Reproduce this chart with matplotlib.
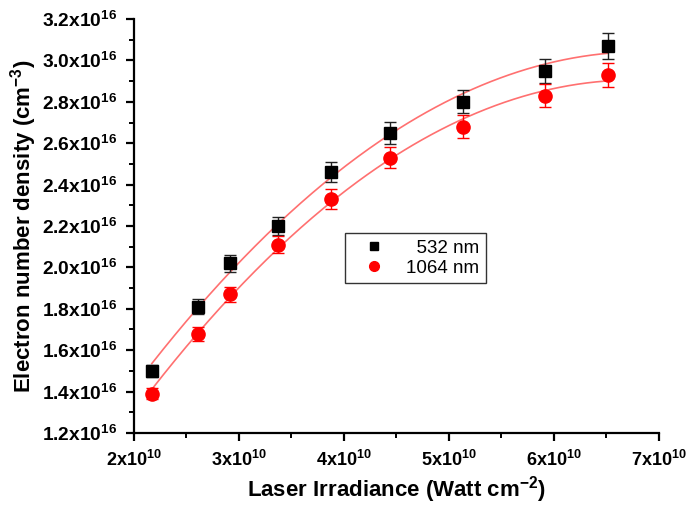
import numpy as np
import matplotlib
matplotlib.use('Agg')
import matplotlib.pyplot as plt
from matplotlib.lines import Line2D
from matplotlib.ticker import FixedLocator, FuncFormatter, MultipleLocator

plt.rcParams['font.family'] = 'Liberation Sans'
plt.rcParams['mathtext.fontset'] = 'custom'
plt.rcParams['mathtext.rm'] = 'Liberation Sans:bold'
plt.rcParams['mathtext.default'] = 'rm'

# laser irradiance (W cm^-2)
irradiance = np.array([2.17, 2.61, 2.91, 3.37, 3.88, 4.44, 5.13, 5.91, 6.51]) * 1e10

# electron number density (cm^-3)
ne_532 = np.array([1.50, 1.81, 2.02, 2.20, 2.46, 2.65, 2.80, 2.95, 3.07]) * 1e16
ne_1064 = np.array([1.39, 1.68, 1.87, 2.11, 2.33, 2.53, 2.68, 2.83, 2.93]) * 1e16

err_532 = np.array([0.030, 0.036, 0.040, 0.044, 0.049, 0.053, 0.056, 0.059, 0.061]) * 1e16
err_1064 = np.array([0.028, 0.034, 0.037, 0.042, 0.047, 0.051, 0.054, 0.057, 0.059]) * 1e16

labels = ['532 nm', '1064 nm']

fig = plt.figure(figsize=(6.86, 5.17), dpi=100)
ax = fig.add_axes([0.1953, 0.1625, 0.7653, 0.8007])

fit_color = '#ff7070'
xs = np.linspace(irradiance.min(), irradiance.max(), 200)
for ne in (ne_532, ne_1064):
    c = np.polyfit(irradiance / 1e10, ne / 1e16, 2)
    ax.plot(xs, np.polyval(c, xs / 1e10) * 1e16, color=fit_color, lw=1.2, zorder=1)

ax.errorbar(irradiance, ne_532, yerr=err_532, fmt='s', color='black', ms=8.5,
            ecolor='#222222', elinewidth=1, capsize=4, capthick=1, zorder=3)
ax.errorbar(irradiance, ne_1064, yerr=err_1064, fmt='o', color='red', ms=9.5,
            ecolor='red', elinewidth=1, capsize=4, capthick=1, zorder=3)

ax.set_xlim(2e10, 7e10)
ax.set_ylim(1.2e16, 3.2e16)

ax.xaxis.set_major_locator(FixedLocator(np.arange(2, 7.5, 1) * 1e10))
ax.xaxis.set_minor_locator(MultipleLocator(0.5e10))
ax.yaxis.set_major_locator(FixedLocator(np.arange(1.2, 3.3, 0.2) * 1e16))
ax.yaxis.set_minor_locator(MultipleLocator(0.1e16))
ax.xaxis.set_major_formatter(FuncFormatter(lambda v, p: '%dx10$^{10}$' % round(v / 1e10)))
ax.yaxis.set_major_formatter(FuncFormatter(lambda v, p: '%.1fx10$^{16}$' % (v / 1e16)))

for s in ('top', 'right'):
    ax.spines[s].set_visible(False)
for s in ('left', 'bottom'):
    ax.spines[s].set_linewidth(1.6)

ax.tick_params(which='major', direction='out', length=6, width=1.6, pad=6)
ax.tick_params(which='minor', direction='out', length=3.5, width=1.4)
ax.tick_params(axis='x', labelsize=13)
ax.tick_params(axis='y', labelsize=13.8)
for t in ax.get_xticklabels() + ax.get_yticklabels():
    t.set_fontweight('bold')

ax.set_xlabel('Laser Irradiance (Watt cm$^{-2}$)', fontsize=16, fontweight='bold', labelpad=3)
ax.set_ylabel('Electron number density (cm$^{-3}$)', fontsize=16, fontweight='bold')
ax.yaxis.set_label_coords(-0.18, 0.5)

handles = [Line2D([], [], ls='none', marker='s', color='black', ms=6),
           Line2D([], [], ls='none', marker='o', color='red', ms=7)]
leg = ax.legend(handles, ['  ' + labels[0], labels[1]], loc='upper left',
                bbox_to_anchor=(0.402, 0.483), borderaxespad=0, fontsize=13.5,
                frameon=True, fancybox=False, edgecolor='black', handletextpad=0.5,
                handlelength=2.4, borderpad=0.35, labelspacing=0.15)
leg.get_frame().set_linewidth(1.0)

fig.savefig('out.png', dpi=100)
